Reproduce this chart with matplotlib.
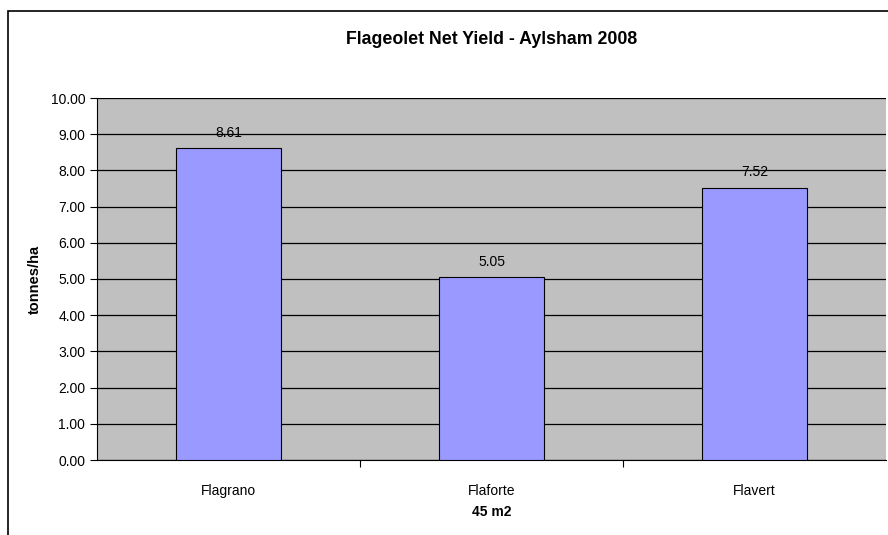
import matplotlib
matplotlib.use("Agg")
import matplotlib.pyplot as plt
from matplotlib.patches import Rectangle

plt.rcParams['font.family'] = ['Liberation Sans', 'DejaVu Sans']

varieties = ['Flagrano', 'Flaforte', 'Flavert']
net_yield = [8.61, 5.05, 7.52]
y_ticks = [0, 1, 2, 3, 4, 5, 6, 7, 8, 9, 10]

fig = plt.figure(figsize=(8.88, 5.35), dpi=100)
ax = fig.add_axes([97/888, 1 - 460/535, 789/888, 362/535])
ax.set_facecolor('#C0C0C0')

# outer chart frame, cut off at the right and bottom like the source
fig.patches.append(Rectangle((8/888, -0.1), 1.2, 1 - 11/535 + 0.1, transform=fig.transFigure,
                             fill=False, edgecolor='black', linewidth=1.2))

x = range(len(varieties))
ax.bar(x, net_yield, width=0.4, color='#9999FF', edgecolor='black', linewidth=0.8, zorder=3)
for i, v in zip(x, net_yield):
    ax.annotate(f'{v:.2f}', (i, v), xytext=(0, 6), textcoords='offset points',
                ha='center', va='bottom', fontsize=10)

ax.set_xlim(-0.5, 2.5)
ax.set_ylim(0, 10)
ax.set_yticks(y_ticks)
ax.set_yticklabels([f'{t:.2f}' for t in y_ticks], fontsize=10)
ax.yaxis.grid(True, color='black', linewidth=0.9, zorder=0)
ax.set_axisbelow(True)

ax.set_xticks([0.5, 1.5])
ax.set_xticklabels([])
ax.set_xticks(list(x), minor=True)
ax.set_xticklabels(varieties, minor=True, fontsize=10)
ax.tick_params(axis='x', which='minor', length=0, pad=17)
ax.tick_params(axis='x', which='major', length=5, direction='out')
ax.tick_params(axis='y', length=5, direction='out')

for s in ['top', 'right']:
    ax.spines[s].set_visible(False)
ax.spines['left'].set_color('black')
ax.spines['bottom'].set_color('black')

ax.set_title('Flageolet Net Yield - Aylsham 2008', fontsize=12.8, fontweight='bold', pad=39)
ax.set_ylabel('tonnes/ha', fontsize=10.5, fontweight='bold', labelpad=6)
ax.set_xlabel('45 m2', fontsize=10, fontweight='bold', labelpad=5)

fig.savefig('out.png', dpi=100)
